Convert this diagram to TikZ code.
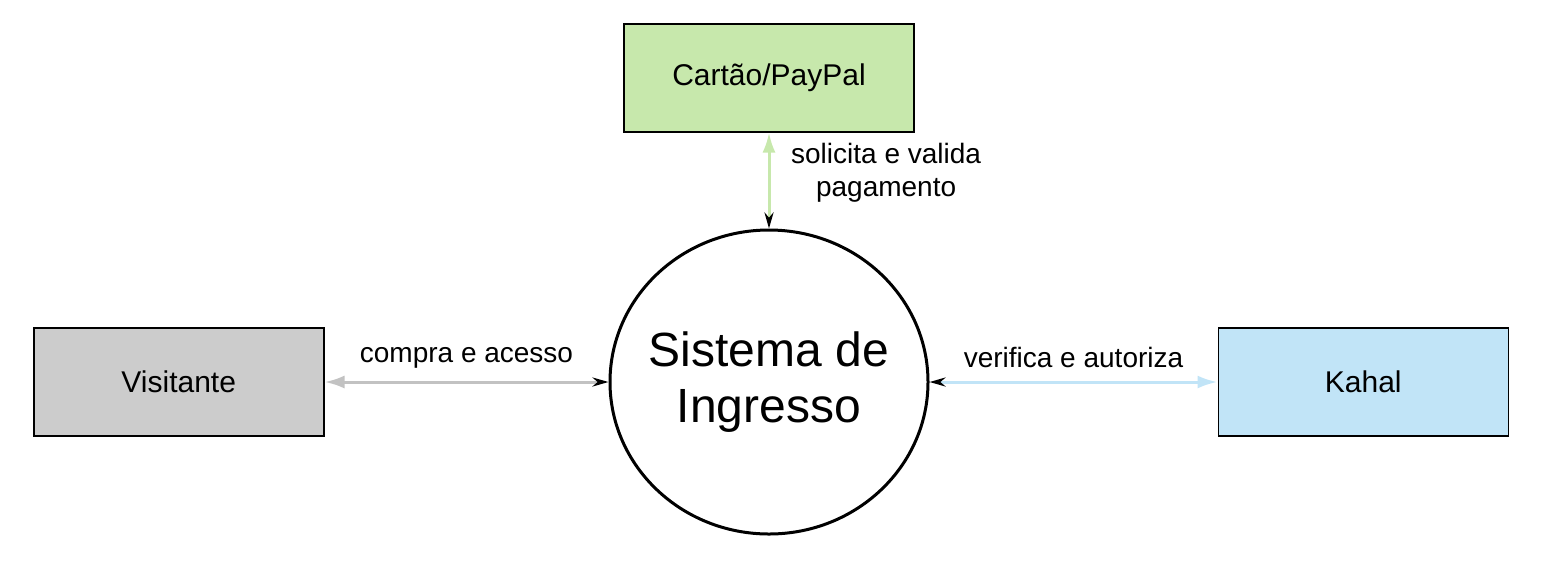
\documentclass[tikz,border=0pt]{standalone}
\usepackage{fontspec}
\setmainfont{Liberation Sans}
\usetikzlibrary{positioning,arrows.meta,shapes.geometric}
\definecolor{visgray}{HTML}{CCCCCC}
\definecolor{paygreen}{HTML}{C7E8AC}
\definecolor{kahalblue}{HTML}{C1E4F7}
\tikzset{
  entity/.style={draw, line width=0.75pt, minimum width=145pt, minimum height=54pt, font=\fontsize{15}{18}\selectfont},
  process/.style={draw, ellipse, line width=1.5pt, minimum width=159pt, minimum height=152pt, inner sep=-7pt, align=center, font=\fontsize{24}{28}\selectfont},
  flow/.style={line width=1.5pt, {Latex[length=10pt,width=6.5pt]}-{Stealth[black,length=8pt,width=4.5pt]}},
  flowlabel/.style={font=\fontsize{14}{16.5}\selectfont, align=center}
}

\begin{document}
\begin{tikzpicture}[x=0.5pt,y=-0.5pt]
            \useasboundingbox (0,0) rectangle (1541,564);
            % Define nodes
            \node[process]                                     (sys)   at (769,382) {Sistema de\\Ingresso};
            \node[entity, fill=visgray, left=142pt of sys]    (vis)   {Visitante};
            \node[entity, fill=kahalblue, right=144pt of sys] (kahal) {Kahal};
            \node[entity, fill=paygreen, above=48pt of sys]   (pay)   {Cartão/PayPal};

            % Connect the nodes
            \draw[flow, visgray!95!black] (vis.east) -- node[flowlabel, above=3pt, black] {compra e acesso} (sys.west);
            \draw[flow, kahalblue] (kahal.west) -- node[flowlabel, above=3pt, black] {verifica e autoriza} (sys.east);
            \draw[flow, paygreen] (pay.south) -- node[flowlabel, right=7pt, yshift=4pt, black] {solicita e valida\\pagamento} (sys.north);
          \end{tikzpicture}
\end{document}
